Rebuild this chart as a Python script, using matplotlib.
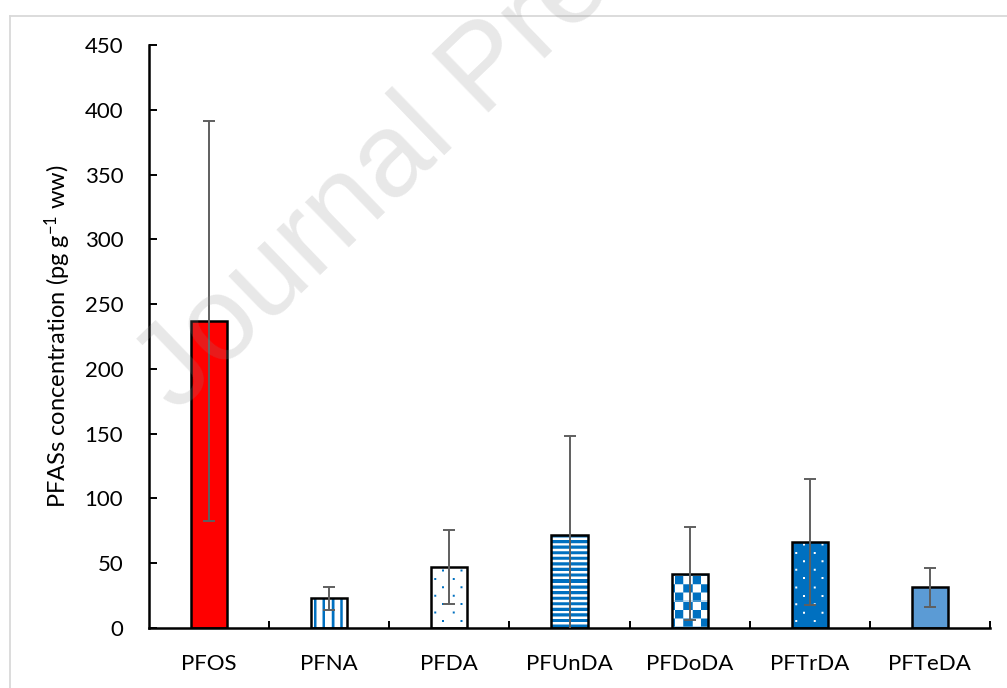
import numpy as np
import matplotlib
matplotlib.use("Agg")
import matplotlib.pyplot as plt
from matplotlib.lines import Line2D
from matplotlib.colors import to_rgb

# PFAS homologues: mean concentration and standard deviation (pg g-1 ww)
compounds = ["PFOS", "PFNA", "PFDA", "PFUnDA", "PFDoDA", "PFTrDA", "PFTeDA"]
mean_conc = [237, 23, 47, 72, 42, 66.5, 31.5]
sd_conc = [154.5, 9, 28.5, 76.5, 36, 48.5, 15]
y_ticks = [0, 50, 100, 150, 200, 250, 300, 350, 400, 450]

BLUE = "#0070C0"
fills = ["#FF0000", "white", "white", "white", "white", BLUE, "#5B9BD5"]
patterns = [None, "vstripes", "dots", "hstripes", "checker", "dots", None]
pattern_ink = [None, BLUE, BLUE, BLUE, BLUE, "white", None]

plt.rcParams["font.family"] = ["Lato", "DejaVu Sans"]
plt.rcParams["mathtext.fontset"] = "custom"
plt.rcParams["mathtext.rm"] = "Lato"
plt.rcParams["mathtext.it"] = "Lato:italic"
plt.rcParams["mathtext.bf"] = "Lato:bold"

W, H = 1007, 688
fig = plt.figure(figsize=(W / 100, H / 100), dpi=100)
ax = fig.add_axes([149 / W, 60 / H, 841 / W, 583 / H])
x = np.arange(len(compounds))
ax.set_xlim(-0.5, len(compounds) - 0.5)
ax.set_ylim(0, 450)

bar_w = 0.3
fill_bars = ax.bar(x, mean_conc, width=bar_w, color=fills, linewidth=0, zorder=2)


def pattern_mask(kind, w, h, ss=4):
    """Coverage mask (0..1) of a fill pattern on a w x h pixel grid."""
    u = (np.arange(w * ss) + 0.5) / ss
    v = (np.arange(h * ss) + 0.5) / ss
    U, V = np.meshgrid(u, v)
    if kind == "vstripes":
        m = ((U - 3.0) % 8.4) < 2.6
    elif kind == "hstripes":
        m = ((V - 0.5) % 5.56) < 3.1
    elif kind == "checker":
        m = ((np.floor((U - 3.0) / 8.33) + np.floor((V - 2.8) / 8.33)) % 2) == 0
    elif kind == "dots":
        row = np.floor((V - 2.5) / 8.4)
        dv = (V - 2.5) % 8.4
        shift = np.where(row % 2 == 0, 11.0, 3.3)
        du = (U - shift) % 17.4
        m = (du < 2.0) & (dv < 2.0)
    else:
        m = np.zeros_like(U, dtype=bool)
    return m.astype(float).reshape(h, ss, w, ss).mean(axis=(1, 3))


for rect, kind, ink in zip(fill_bars, patterns, pattern_ink):
    if kind is None:
        continue
    x0, y0 = rect.get_x(), rect.get_y()
    x1, y1 = x0 + rect.get_width(), y0 + rect.get_height()
    (px0, py0), (px1, py1) = ax.transData.transform([[x0, y0], [x1, y1]])
    w = max(int(round(px1 - px0)), 1)
    h = max(int(round(py1 - py0)), 1)
    mask = pattern_mask(kind, w, h)
    rgba = np.zeros((h, w, 4))
    rgba[..., :3] = to_rgb(ink)
    rgba[..., 3] = mask
    im = ax.imshow(rgba, extent=(x0, x1, y0, y1), origin="upper",
                   interpolation="nearest", aspect="auto", zorder=2.5)
    im.set_clip_path(rect)

ax.set_xlim(-0.5, len(compounds) - 0.5)
ax.set_ylim(0, 450)

ax.bar(x, mean_conc, width=bar_w, fill=False, edgecolor="black",
       linewidth=1.8, zorder=3)
ax.errorbar(x, mean_conc, yerr=sd_conc, fmt="none", ecolor="#5f5f5f",
            elinewidth=1.4, capsize=4.5, capthick=1.4, zorder=4)

for side in ("top", "right"):
    ax.spines[side].set_visible(False)
for side in ("left", "bottom"):
    ax.spines[side].set_linewidth(1.8)
    ax.spines[side].set_color("black")

ax.set_yticks(y_ticks)
ax.tick_params(axis="y", direction="in", length=6, width=1.4, pad=18.5,
               labelsize=16, colors="black")
ax.set_xticks(x, compounds)
ax.tick_params(axis="x", which="major", length=0, pad=19, labelsize=16)
ax.set_xticks(np.arange(0.5, len(compounds), 1.0), minor=True)
ax.tick_params(axis="x", which="minor", direction="in", length=5, width=1.4)

ax.set_ylabel(r"PFASs concentration (pg g$^{\mathregular{-1}}$ ww)", fontsize=17)
ax.yaxis.set_label_coords(-0.0904, 0.5)

# light frame around the chart area
frame_kw = dict(transform=fig.transFigure, color="#d9d9d9", lw=1.3)
fig.add_artist(Line2D([9.5 / W, 9.5 / W], [0, 1 - 15.5 / H], **frame_kw))
fig.add_artist(Line2D([9.5 / W, 1], [1 - 15.5 / H, 1 - 15.5 / H], **frame_kw))

fig.text(177 / W, 1 - 414 / H, "Journal Pre-proof", rotation=44,
         rotation_mode="anchor", ha="left", va="baseline", fontsize=86,
         family="Liberation Sans", color="#8c8c8c", alpha=0.2, zorder=10)

fig.savefig("out.png", dpi=100)
